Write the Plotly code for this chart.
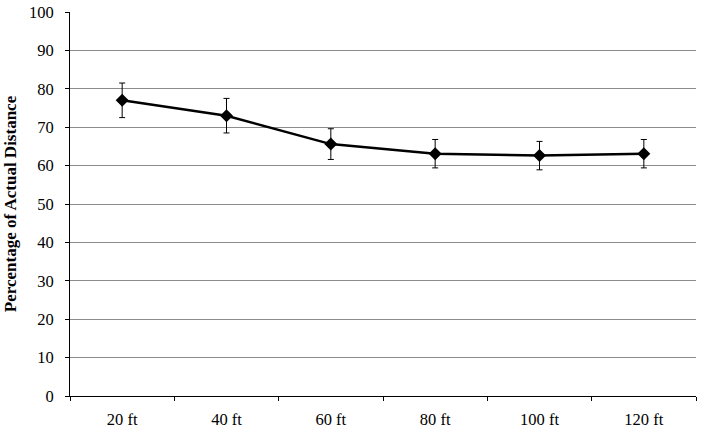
import plotly.graph_objects as go

categories = ["20 ft", "40 ft", "60 ft", "80 ft", "100 ft", "120 ft"]
values = [77.0, 73.0, 65.6, 63.1, 62.6, 63.1]
errors = [4.5, 4.5, 4.0, 3.7, 3.7, 3.7]
y_ticks = list(range(0, 101, 10))

fig = go.Figure()
fig.add_trace(go.Scatter(
    x=categories, y=values,
    mode="lines+markers",
    line=dict(color="black", width=2.5),
    marker=dict(symbol="diamond", size=10, color="black"),
    error_y=dict(type="data", array=errors, visible=True,
                 color="black", thickness=1, width=3),
    showlegend=False,
    cliponaxis=False,
))

fig.update_layout(
    width=704, height=435,
    margin=dict(l=70, r=8, t=12, b=39, autoexpand=False),
    plot_bgcolor="white", paper_bgcolor="white",
    font=dict(family="Liberation Serif, Times New Roman, serif", size=16, color="black"),
    xaxis=dict(
        type="category",
        automargin=False,
        showline=True, linecolor="black", linewidth=1,
        ticks="outside", tickson="boundaries", ticklen=4, tickcolor="black",
        showgrid=False, zeroline=False,
        tickfont=dict(size=16.5),
        ticklabelstandoff=8,
        range=[-0.5, 5.5],
    ),
    yaxis=dict(
        automargin=False,
        range=[0, 100],
        tickvals=y_ticks,
        showline=True, linecolor="black", linewidth=1,
        ticks="outside", ticklen=4, tickcolor="black",
        showgrid=True, gridcolor="#8c8c8c", gridwidth=1,
        zeroline=False,
        tickfont=dict(size=16.5),
        ticklabelstandoff=8,
        title=dict(text="<b>Percentage of Actual Distance</b>", font=dict(size=17), standoff=8),
    ),
)

fig.write_html("out.html", config={"displayModeBar": False},
               post_script="document.body.style.margin='0';")
